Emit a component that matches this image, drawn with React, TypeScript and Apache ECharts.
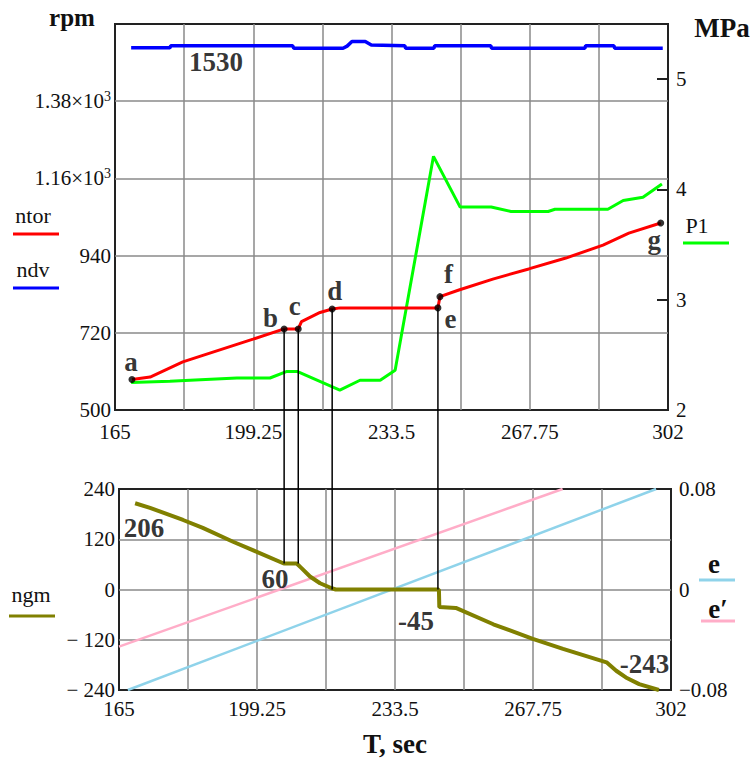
import React, { useEffect, useRef } from 'react';
import * as echarts from 'echarts';

// ---------- data ----------
const X_TICK_LABELS = ['165', '199.25', '233.5', '267.75', '302'];

// ntor (rpm, red)
const NTOR_T = [169.2, 173.7, 181.8, 199.2, 206.9, 210.4, 211.2, 215.8, 218.8, 220.8, 245.0, 245.5, 250.2, 258.6, 267.5, 276.7, 285.9, 292.3, 300.2];
const NTOR_V = [587, 594, 637, 702, 731, 731, 752, 778, 788, 791, 791, 823, 842, 873, 902, 933, 970, 1004, 1033];

// ndv (rpm, blue)
const NDV_T = [169.0, 178.6, 178.8, 209.0, 209.3, 221.5, 222.5, 223.7, 227.0, 228.5, 236.8, 237.0, 244.0, 244.2, 258.1, 258.3, 281.4, 281.6, 288.6, 288.8, 300.7];
const NDV_V = [1532, 1532, 1538, 1538, 1531, 1531, 1537, 1550, 1550, 1540, 1538, 1531, 1531, 1538, 1538, 1531, 1531, 1538, 1538, 1531, 1531];

// P1 (MPa, green)
const P1_T = [169.0, 178.6, 183.6, 195.2, 203.4, 207.6, 210.1, 220.7, 225.7, 230.7, 234.4, 243.9, 250.5, 258.2, 263.1, 272.3, 274.0, 287.1, 290.9, 295.8, 300.5];
const P1_V = [2.25, 2.26, 2.27, 2.29, 2.29, 2.35, 2.35, 2.18, 2.27, 2.27, 2.36, 4.30, 3.84, 3.84, 3.80, 3.80, 3.82, 3.82, 3.90, 3.93, 4.05];

// marked points on ntor
const POINT_NAMES = ['a', 'b', 'c', 'd', 'e', 'f', 'g'];
const POINT_T = [169.2, 206.9, 210.4, 218.8, 245.0, 245.5, 300.2];
const POINT_V = [587, 731, 731, 788, 791, 823, 1033];

// ngm (olive)
const NGM_T = [169.0, 172.7, 180.9, 185.8, 193.3, 199.2, 205.9, 209.1, 210.3, 212.4, 214.9, 217.8, 218.8, 244.4, 244.5, 248.6, 257.9, 267.7, 275.2, 286.0, 288.4, 290.8, 294.1, 299.0];
const NGM_V = [206, 195, 166, 147, 114, 90, 62, 62, 51, 31, 15, 3, 0, 0, -42, -44, -83, -118, -142, -174, -194, -210, -226, -240];

// e (light blue) and e′ (pink)
const E_T = [167.2, 298.3];
const E_V = [-0.08, 0.08];
const EP_T = [165.0, 275.1];
const EP_V = [-0.0455, 0.08];

// connectors: b, c, d, e down to ngm
const CONNECT_POINTS = [1, 2, 3, 4];
const CONNECT_NGM = [62, 62, 0, 0];

// value annotations
const TOP_NOTE_TEXT = ['1530'];
const TOP_NOTE_T = [190.0];
const TOP_NOTE_V = [1492];
const BOT_NOTE_TEXT = ['206', '60', '-45', '-243'];
const BOT_NOTE_T = [171.2, 203.7, 238.7, 295.4];
const BOT_NOTE_V = [148, 26, -76, -179];

// ---------- styles ----------
const FONT = "'Liberation Serif', 'Times New Roman', serif";
const TXT = '#111';
const GRIDC = '#8a8a8a';
const X_MIN = 165;
const X_STEP = 17.125;
const POINT_LABEL_OFFSETS = [[-1, -17], [-13.5, -11], [-3.5, -23], [2.5, -18], [12.5, 11], [8.5, -23], [-6.5, 17]];

const zip = (a: number[], b: number[]) => a.map((x, i) => [x, b[i]]);

const xLabel = (v: number) => {
  const i = Math.round((v - X_MIN) / X_STEP);
  return i % 2 === 0 ? X_TICK_LABELS[i / 2] ?? '' : '';
};

export default function App() {
  const ref = useRef<HTMLDivElement>(null);
  useEffect(() => {
    if (!ref.current) return;
    const chart = echarts.init(ref.current, undefined, { renderer: 'svg' });
    const labelBase = { fontFamily: FONT, fontSize: 21, color: TXT };
    const split = { show: true, showMinLine: false, showMaxLine: false, lineStyle: { color: GRIDC, width: 1.5 } };
    const xAxisBase = (gridIndex: number, margin: number) => ({
      type: 'value', gridIndex, min: 165, max: 302, interval: X_STEP,
      axisLine: { show: false }, axisTick: { show: false }, splitLine: split,
      axisLabel: { ...labelBase, margin, formatter: xLabel, showMinLabel: true, showMaxLabel: true },
    });
    const option: any = {
      animation: false,
      grid: [
        { left: 115, top: 24, width: 553, height: 386, show: true, borderColor: '#222', borderWidth: 2, backgroundColor: 'transparent' },
        { left: 119, top: 489, width: 552, height: 201, show: true, borderColor: '#222', borderWidth: 2, backgroundColor: 'transparent' },
      ],
      xAxis: [xAxisBase(0, 11), xAxisBase(1, 8)],
      yAxis: [
        {
          type: 'value', gridIndex: 0, position: 'left', min: 500, max: 1600, interval: 220,
          axisLine: { show: false }, axisTick: { show: false }, splitLine: split,
          axisLabel: {
            ...labelBase, margin: 4, showMaxLabel: false,
            formatter: (v: number) => (v >= 1000 ? `{m|${(v / 1000).toFixed(2)}×10}{s|3}` : `{m|${v}}`),
            rich: {
              m: { fontFamily: FONT, fontSize: 21, lineHeight: 24, color: TXT },
              s: { fontFamily: FONT, fontSize: 14, lineHeight: 10, verticalAlign: 'top', color: TXT },
            },
          },
        },
        {
          type: 'value', gridIndex: 0, position: 'right', min: 2, max: 5.5, interval: 1,
          axisLine: { show: false }, splitLine: { show: false },
          axisTick: { show: true, inside: true, length: 11, lineStyle: { color: '#222', width: 2 } },
          axisLabel: { ...labelBase, margin: 8, showMaxLabel: false, padding: [0, 0, 6, 0] },
        },
        {
          type: 'value', gridIndex: 1, position: 'left', min: -240, max: 240, interval: 120,
          axisLine: { show: false }, axisTick: { show: false }, splitLine: split,
          axisLabel: { ...labelBase, margin: 4, formatter: (v: number) => (v < 0 ? `− ${-v}` : `${v}`) },
        },
        {
          type: 'value', gridIndex: 1, position: 'right', min: -0.08, max: 0.08, interval: 0.08,
          axisLine: { show: false }, axisTick: { show: false }, splitLine: { show: false },
          axisLabel: { ...labelBase, margin: 8, formatter: (v: number) => (Math.abs(v) < 1e-9 ? '0' : v < 0 ? `−${Math.abs(v)}` : `${v}`) },
        },
      ],
      series: [
        { type: 'line', name: 'ndv', xAxisIndex: 0, yAxisIndex: 0, data: zip(NDV_T, NDV_V), showSymbol: false, lineStyle: { color: '#0000ff', width: 3.5 }, itemStyle: { color: '#0000ff' }, z: 3 },
        { type: 'line', name: 'P1', xAxisIndex: 0, yAxisIndex: 1, data: zip(P1_T, P1_V), showSymbol: false, lineStyle: { color: '#00ff00', width: 3 }, itemStyle: { color: '#00ff00' }, z: 3 },
        { type: 'line', name: 'ntor', xAxisIndex: 0, yAxisIndex: 0, data: zip(NTOR_T, NTOR_V), showSymbol: false, lineStyle: { color: '#ff0000', width: 3 }, itemStyle: { color: '#ff0000' }, z: 4 },
        {
          type: 'scatter', name: 'points', xAxisIndex: 0, yAxisIndex: 0, symbolSize: 7, itemStyle: { color: '#000' }, z: 6, silent: true,
          label: { show: true, position: 'inside', fontFamily: FONT, fontSize: 27, fontWeight: 'bold', color: '#000' },
          data: POINT_NAMES.map((n, i) => ({ value: [POINT_T[i], POINT_V[i]], label: { formatter: n, offset: POINT_LABEL_OFFSETS[i] } })),
        },
        {
          type: 'scatter', name: 'topNotes', xAxisIndex: 0, yAxisIndex: 0, symbolSize: 0, silent: true, z: 6,
          label: { show: true, position: 'inside', fontFamily: FONT, fontSize: 27, fontWeight: 'bold', color: '#000' },
          data: TOP_NOTE_TEXT.map((s, i) => ({ value: [TOP_NOTE_T[i], TOP_NOTE_V[i]], label: { formatter: s } })),
        },
        { type: 'line', name: 'e', xAxisIndex: 1, yAxisIndex: 3, data: zip(E_T, E_V), showSymbol: false, lineStyle: { color: '#8fd3ea', width: 2.5 }, itemStyle: { color: '#8fd3ea' }, z: 3 },
        { type: 'line', name: "e'", xAxisIndex: 1, yAxisIndex: 3, data: zip(EP_T, EP_V), showSymbol: false, lineStyle: { color: '#ffadc8', width: 2.5 }, itemStyle: { color: '#ffadc8' }, z: 3 },
        { type: 'line', name: 'ngm', xAxisIndex: 1, yAxisIndex: 2, data: zip(NGM_T, NGM_V), showSymbol: false, lineStyle: { color: '#808000', width: 4 }, itemStyle: { color: '#808000' }, z: 4 },
        {
          type: 'scatter', name: 'botNotes', xAxisIndex: 1, yAxisIndex: 2, symbolSize: 0, silent: true, z: 6,
          label: { show: true, position: 'inside', fontFamily: FONT, fontSize: 27, fontWeight: 'bold', color: '#000' },
          data: BOT_NOTE_TEXT.map((s, i) => ({ value: [BOT_NOTE_T[i], BOT_NOTE_V[i]], label: { formatter: s } })),
        },
      ],
    };
    chart.setOption(option);

    const txt = (x: number, y: number, text: string, size: number, bold = false) => ({
      type: 'text', x, y, z: 10, silent: true,
      style: { text, fontFamily: FONT, fontSize: size, fontWeight: bold ? 'bold' : 'normal', fill: TXT, align: 'center', verticalAlign: 'middle' },
    });
    const seg = (x1: number, y1: number, x2: number, y2: number, color: string, w: number) => ({
      type: 'line', z: 10, silent: true, shape: { x1, y1, x2, y2 }, style: { stroke: color, lineWidth: w },
    });

    const connectors = CONNECT_POINTS.map((pi, k) => {
      const top = chart.convertToPixel({ seriesIndex: 2 }, [POINT_T[pi], POINT_V[pi]]) as number[];
      const bot = chart.convertToPixel({ seriesIndex: 7 }, [POINT_T[pi], CONNECT_NGM[k]]) as number[];
      return seg(top[0], top[1], top[0], bot[1], '#000', 1.5);
    });

    chart.setOption({
      graphic: [
        txt(72, 17, 'rpm', 25, true),
        txt(722, 28, 'MPa', 27, true),
        txt(395, 744, 'T, sec', 27, true),
        txt(33, 215, 'ntor', 22),
        seg(13, 234, 59, 234, '#ff0000', 3),
        txt(33, 269.5, 'ndv', 22),
        seg(13, 288, 59, 288, '#0000ff', 3),
        txt(697, 225, 'P1', 22),
        seg(683, 243, 729, 243, '#00ff00', 3),
        txt(31, 594, 'ngm', 22),
        seg(9, 616, 55, 616, '#808000', 3),
        txt(714, 564, 'e', 27, true),
        seg(699, 580, 735, 580, '#8fd3ea', 3),
        txt(718, 609, 'e′', 27, true),
        seg(701, 621, 735, 621, '#ffadc8', 3),
        ...connectors,
      ],
    });

    return () => chart.dispose();
  }, []);
  return <div ref={ref} style={{ position: 'fixed', left: 0, top: 0, width: 752, height: 760, background: '#fff' }} />;
}
